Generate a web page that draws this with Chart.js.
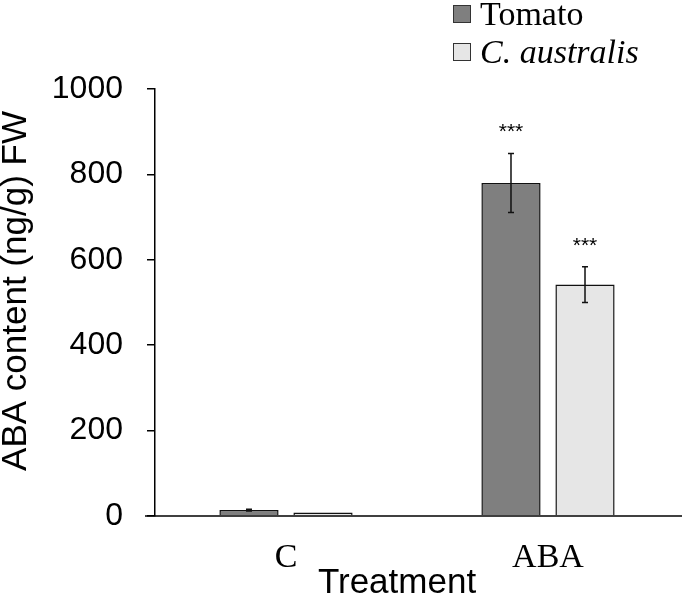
<!DOCTYPE html>
<html>
<head>
<meta charset="utf-8">
<script src="https://cdn.jsdelivr.net/npm/chart.js@4/dist/chart.umd.min.js"></script>
<style>
  body { margin: 0; background: #fff; }
  canvas { display: block; }
</style>
</head>
<body>
<canvas id="grafico" width="682" height="600"></canvas>
<script>
const categorias = ['C', 'ABA'];
const tomato = [14, 780];
const tomatoErr = [2, 69];
const australis = [8, 542];
const australisErr = [0, 42];
const tomatoSig = ['', '***'];
const australisSig = ['', '***'];
const yTicks = [0, 200, 400, 600, 800, 1000];

const erros = [tomatoErr, australisErr];
const sigs = [tomatoSig, australisSig];

const extras = {
	id: 'extras',
	afterDatasetsDraw(chart) {
		const ctx = chart.ctx;
		const y = chart.scales.y;
		ctx.save();
		ctx.strokeStyle = '#111';
		ctx.lineWidth = 1.5;
		chart.data.datasets.forEach((ds, i) => {
			const meta = chart.getDatasetMeta(i);
			meta.data.forEach((bar, j) => {
				const v = ds.data[j], e = erros[i][j];
				const top = y.getPixelForValue(v + e);
				if (e > 0) {
					const bot = y.getPixelForValue(v - e);
					ctx.beginPath();
					ctx.moveTo(bar.x, top); ctx.lineTo(bar.x, bot);
					ctx.moveTo(bar.x - 3, top); ctx.lineTo(bar.x + 3, top);
					ctx.moveTo(bar.x - 3, bot); ctx.lineTo(bar.x + 3, bot);
					ctx.stroke();
				}
				if (sigs[i][j]) {
					ctx.fillStyle = '#000';
					ctx.font = '21px Arial, "Liberation Sans"';
					ctx.textAlign = 'center';
					ctx.textBaseline = 'alphabetic';
					ctx.fillText(sigs[i][j], bar.x, top - 15);
				}
			});
		});
		ctx.restore();
	},
	afterDraw(chart) {
		const ctx = chart.ctx;
		const area = chart.chartArea;
		ctx.save();
		// linha do eixo x
		ctx.strokeStyle = '#000';
		ctx.lineWidth = 1.5;
		ctx.beginPath();
		ctx.moveTo(145, area.bottom);
		ctx.lineTo(682, area.bottom);
		ctx.stroke();

		// titulos dos eixos
		ctx.fillStyle = '#000';
		ctx.font = '35px Arial, "Liberation Sans"';
		ctx.textAlign = 'center';
		ctx.textBaseline = 'alphabetic';
		ctx.fillText('Treatment', 397, 593);

		ctx.save();
		ctx.translate(26, 291);
		ctx.rotate(-Math.PI / 2);
		ctx.font = '35px Arial, "Liberation Sans"';
		ctx.fillText('ABA content (ng/g) FW', 0, 0);
		ctx.restore();

		// legenda
		const fontes = ['34px "Liberation Serif", "Times New Roman"', 'italic 34px "Liberation Serif", "Times New Roman"'];
		chart.data.datasets.forEach((ds, i) => {
			const by = 5 + i * 38;
			ctx.fillStyle = ds.backgroundColor;
			ctx.fillRect(453, by, 18, 18);
			ctx.strokeStyle = '#333';
			ctx.lineWidth = 1;
			ctx.strokeRect(453.5, by + 0.5, 17, 17);
			ctx.fillStyle = '#000';
			ctx.font = fontes[i];
			ctx.textAlign = 'left';
			ctx.fillText(ds.label, 480, by + 20);
		});
		ctx.restore();
	}
};

const ctx = document.getElementById('grafico').getContext('2d');
const chart = new Chart(ctx, {
	type: 'bar',
	data: {
		labels: categorias,
		datasets: [{
			label: 'Tomato',
			data: tomato,
			backgroundColor: '#7f7f7f',
			borderColor: '#111',
			borderWidth: 1.5,
			categoryPercentage: 0.565,
			barPercentage: 0.8
		}, {
			label: 'C. australis',
			data: australis,
			backgroundColor: '#e6e6e6',
			borderColor: '#111',
			borderWidth: 1.5,
			categoryPercentage: 0.565,
			barPercentage: 0.8
		}]
	},
	options: {
		responsive: false,
		animation: false,
		devicePixelRatio: 1,
		layout: { padding: { top: 89, right: 3, left: 0, bottom: 0 } },
		plugins: {
			legend: { display: false },
			tooltip: { enabled: false }
		},
		scales: {
			x: {
				grid: { display: false, drawTicks: false },
				border: { display: false },
				ticks: {
					color: '#000',
					padding: 22,
					font: { family: '"Liberation Serif", "Times New Roman"', size: 34 }
				},
				afterFit: s => { s.height = 84; }
			},
			y: {
				min: 0,
				max: 1000,
				afterBuildTicks: s => { s.ticks = yTicks.map(v => ({ value: v })); },
				grid: { drawOnChartArea: false, drawTicks: true, tickLength: 8, color: '#000', lineWidth: 1.5 },
				border: { display: true, color: '#000', width: 1.5 },
				ticks: {
					color: '#000',
					padding: 24,
					callback: v => String(v),
					font: { family: 'Arial, "Liberation Sans"', size: 32 }
				},
				afterFit: s => { s.width = 155; }
			}
		}
	},
	plugins: [extras]
});
</script>
</body>
</html>
